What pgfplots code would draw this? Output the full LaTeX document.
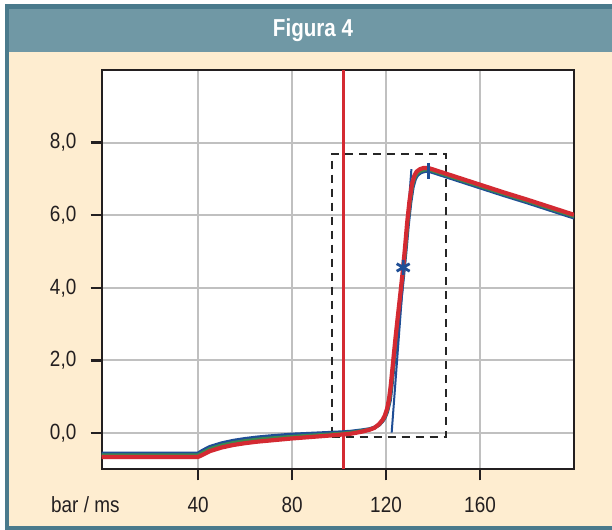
\documentclass[border=0pt]{standalone}
\usepackage{fontspec}
\setmainfont{Liberation Sans}[FakeStretch=0.86]
\newfontfamily\titlefont{Liberation Sans}[FakeStretch=0.84]
\usepackage{pgfplots}
\pgfplotsset{compat=1.18}
\usepackage{pgfplotstable}
\definecolor{framedark}{HTML}{4A7A8C}
\definecolor{headbg}{HTML}{7098A5}
\definecolor{cream}{HTML}{FEEDD0}
\definecolor{gridgray}{HTML}{C0C0C0}
\definecolor{txtcol}{HTML}{231F20}
\definecolor{cred}{HTML}{D42A32}
\definecolor{cblue}{HTML}{1F4E96}
\definecolor{cgreen}{HTML}{3A8A50}

\pgfplotstableread{
x y
-1 -0.66
40 -0.66
42 -0.6
45 -0.5
50 -0.4
55 -0.33
60 -0.28
65 -0.24
70 -0.21
80 -0.15
90 -0.1
100 -0.05
105 -0.02
110 0.04
113 0.09
115 0.14
117 0.24
118.5 0.36
119.5 0.48
120.5 0.68
121.3 0.95
122 1.3
123 1.95
124 2.6
125 3.2
126 3.78
127 4.38
128 5.05
129 5.8
130 6.4
131 6.85
132 7.08
133 7.2
134.5 7.27
136 7.3
138 7.3
140 7.26
150 7.05
160 6.84
170 6.63
180 6.43
190 6.22
200 6.01
}\redtab

\pgfplotstableread{
x y
-1 -0.61
40 -0.61
42 -0.54
45 -0.44
50 -0.34
55 -0.27
60 -0.22
65 -0.18
70 -0.15
80 -0.1
90 -0.06
100 -0.02
105 0.01
110 0.06
113 0.1
115 0.14
117 0.23
118.5 0.34
119.5 0.45
120.5 0.62
121.5 0.93
122.2 1.3
123.2 1.95
124.2 2.6
125.2 3.2
126.2 3.78
127.2 4.38
128.2 5.05
129.2 5.8
130.2 6.38
131.2 6.82
132.2 7.04
133.2 7.15
134.7 7.22
136.2 7.25
138 7.26
140 7.22
150 7.01
160 6.8
170 6.59
180 6.39
190 6.18
200 5.97
}\greentab

\pgfplotstableread{
x y
-1 -0.56
40 -0.56
42 -0.48
45 -0.38
50 -0.28
55 -0.21
60 -0.16
65 -0.12
70 -0.09
80 -0.04
90 -0.01
100 0.02
105 0.04
110 0.08
113 0.11
115 0.15
117 0.22
118.5 0.32
119.5 0.42
120.5 0.58
121.7 0.9
122.4 1.28
123.4 1.93
124.4 2.58
125.4 3.18
126.4 3.76
127.4 4.36
128.4 5.03
129.4 5.76
130.4 6.34
131.4 6.77
132.4 7.0
133.4 7.11
134.9 7.18
136.4 7.21
138 7.22
140 7.18
150 6.97
160 6.76
170 6.55
180 6.35
190 6.14
200 5.93
}\bluetab

\begin{document}
\begin{tikzpicture}
\begin{scope}[x=1bp,y=1bp,shift={(-101.7bp,-60.7bp)}]
\useasboundingbox (0,0) rectangle (612,530);
\fill[white] (0,0) rectangle (612,530);
\fill[framedark] (4.7,0) rectangle (612,525.7);
\fill[cream] (9.3,4) rectangle (612,521);
\fill[headbg] (9.3,478.3) rectangle (612,521);
\node[text=white, font=\titlefont\bfseries\fontsize{24.5bp}{28bp}\selectfont] at (313,499.7) {Figura 4};
\node[anchor=base west, inner sep=0pt, text=txtcol, font=\fontsize{22bp}{25bp}\selectfont] at (51,17.3) {bar / ms};
\end{scope}

\begin{axis}[
  anchor=south west,
  scale only axis, width=472.3bp, height=399.3bp,
  xmin=-1, xmax=200, ymin=-1, ymax=10,
  axis background/.style={fill=white},
  axis line style={line width=2.4bp, color=txtcol},
  xtick={40,80,120,160}, ytick={0,2,4,6,8},
  yticklabels={{0,0},{2,0},{4,0},{6,0},{8,0}},
  tick pos=left, tick align=outside,
  major tick length=11bp,
  every tick/.style={line width=2.4bp, color=txtcol},
  grid=major,
  major grid style={line width=2bp, color=gridgray},
  /pgf/number format/assume math mode=true,
  every tick label/.append style={font=\fontsize{22bp}{25bp}\selectfont, text=txtcol},
  xticklabel style={anchor=base, inner sep=0pt},
  yticklabel style={anchor=east, inner sep=0pt},
  xticklabel shift=32bp,
  yticklabel shift=14.2bp,
]
\addplot[cred, line width=2.5bp] coordinates {(101.8,-1) (101.8,10)};
\addplot[black!85, line width=2bp, dash pattern=on 8bp off 6bp] coordinates {(96.8,-0.1) (145.4,-0.1) (145.4,7.69) (96.8,7.69) (96.8,-0.1)};
\addplot[cblue, line width=3.6bp, line join=round] table[x=x,y=y] {\bluetab};
\addplot[cgreen, line width=3.6bp, line join=round] table[x=x,y=y] {\greentab};
\addplot[cblue, line width=2bp] coordinates {(122.4,0.01) (130.8,7.27)};
\addplot[cred, line width=4.2bp, line join=round] table[x=x,y=y] {\redtab};
\addplot[cblue, only marks, mark=asterisk, mark size=7.5bp, mark options={line width=2.8bp}] coordinates {(127.3,4.56)};
\addplot[cblue, only marks, mark=|, mark size=8bp, mark options={line width=3bp}] coordinates {(138,7.22)};
\end{axis}
\end{tikzpicture}
\end{document}
